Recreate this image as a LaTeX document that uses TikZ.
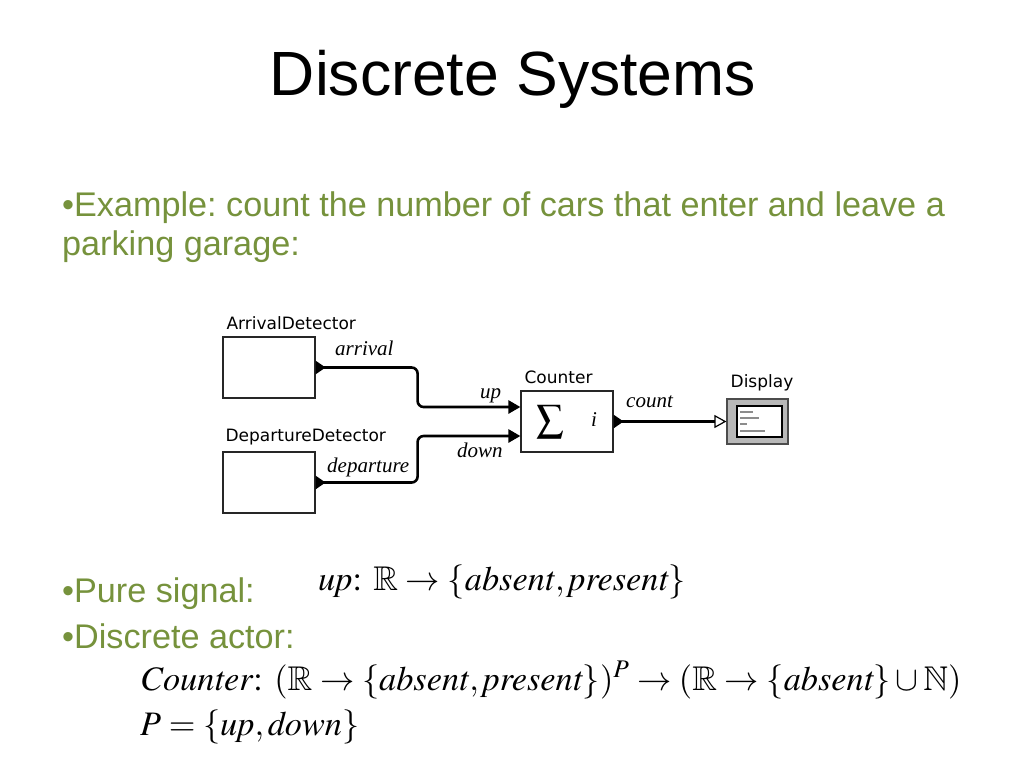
\documentclass[tikz,border=0pt]{standalone}
\usepackage{amssymb}
\usepackage{mathptmx}
\usepackage[no-math]{fontspec}
\setmainfont{Liberation Sans}
\newfontfamily\blockfont{DejaVu Sans}
\newfontfamily\signalfont{Liberation Serif}
\usetikzlibrary{arrows.meta}
\definecolor{olivetext}{HTML}{76923C}
\frenchspacing

\begin{document}
\begin{tikzpicture}[x=1pt, y=-1pt,
	actor/.style={draw=black!85, line width=1.2pt, fill=white, minimum width=92pt, minimum height=61pt, inner sep=0pt},
	actorname/.style={anchor=base west, inner sep=0pt, font=\fontsize{17}{19}\blockfont},
	signal/.style={anchor=base west, inner sep=0pt, font=\fontsize{21}{23}\signalfont\itshape},
	wire/.style={line width=2.6pt, rounded corners=6pt},
	bullet/.style={anchor=base west, inner sep=0pt, text=olivetext, font=\fontsize{34.2}{38}\selectfont},
	formula/.style={anchor=base west, inner sep=0pt, font=\fontsize{34.3}{38}\selectfont}]
	\useasboundingbox (0,0) rectangle (1024,768);

	% title
	\node[anchor=base, inner sep=0pt, font=\fontsize{62.5}{68}\selectfont] (title) at (513,95) {Discrete Systems};

	% bullets
	\node[bullet] (ex1) at (62,216) {\textbullet Example: count the number of cars that enter and leave a};
	\node[bullet] (ex2) at (62,255) {parking garage:};
	\node[bullet] (pure) at (62,602) {\textbullet Pure signal:};
	\node[bullet] (actr) at (62,648) {\textbullet Discrete actor:};

	% actors
	\node[actor] (arr) at (269,367.5) {};
	\node[actor] (dep) at (269,482.5) {};
	\node[actor] (cnt) at (567,421.5) {};
	\node[draw=black!70, line width=1.2pt, fill=black!28, minimum width=61pt, minimum height=45pt, inner sep=0pt] (disp) at (757.5,421.5) {};
	\node[draw=black, line width=1.2pt, fill=white, minimum width=45pt, minimum height=31pt, inner sep=0pt] (scr) at (759.5,421.5) {};
	\draw[black!45, line width=1.1pt] (740,412) -- (753,412);
	\draw[black!45, line width=1.1pt] (740,418) -- (759,418);
	\draw[black!45, line width=1.1pt] (740,424) -- (747,424);
	\draw[black!45, line width=1.1pt] (740,431) -- (765,431);

	\node[actorname] at ([xshift=4pt, yshift=7pt]arr.north west) {ArrivalDetector};
	\node[actorname] at ([xshift=3pt, yshift=10pt]dep.north west) {DepartureDetector};
	\node[actorname] at ([xshift=4pt, yshift=7pt]cnt.north west) {Counter};
	\node[actorname, anchor=base] at ([xshift=4.5pt, yshift=11pt]disp.north) {Display};

	\node[inner sep=0pt, font=\fontsize{27}{30}\selectfont] (sum) at (550,421.5) {$\displaystyle\sum$};
	\node[signal] (iport) at (591,426) {i};

	% wires
	\draw[wire, {Triangle[reversed, length=10pt, width=13pt]}-{Triangle[length=12pt, width=13pt]}]
		(arr.east) -- ++(102,0) |- ([yshift=14.5pt]cnt.west);
	\draw[wire, {Triangle[reversed, length=10pt, width=13pt]}-{Triangle[length=12pt, width=13pt]}]
		(dep.east) -- ++(102,0) |- ([yshift=-14.5pt]cnt.west);
	\draw[wire, {Triangle[reversed, length=10pt, width=13pt]}-{Triangle[open, fill=white, line width=1.2pt, length=12pt, width=13pt]}]
		(cnt.east) -- (disp.west);

	\node[signal] at (335,355) {arrival};
	\node[signal] at (327,472) {departure};
	\node[signal] at (480,398) {up};
	\node[signal] at (457,457) {down};
	\node[signal] at (626,407) {count};

	% formulas
	\node[formula] (f1) at (318,590) {$\mathit{up}\colon\;\mathbb{R}\rightarrow\{\mathit{absent},\mathit{present}\}$};
	\node[formula] (f2) at (140,690) {$\mathit{Counter}\colon\;(\mathbb{R}\rightarrow\{\mathit{absent},\mathit{present}\})^{P}\rightarrow(\mathbb{R}\rightarrow\{\mathit{absent}\}\cup\mathbb{N})$};
	\node[formula] (f3) at (140,735) {$P=\{\mathit{up},\mathit{down}\}$};
\end{tikzpicture}
\end{document}
